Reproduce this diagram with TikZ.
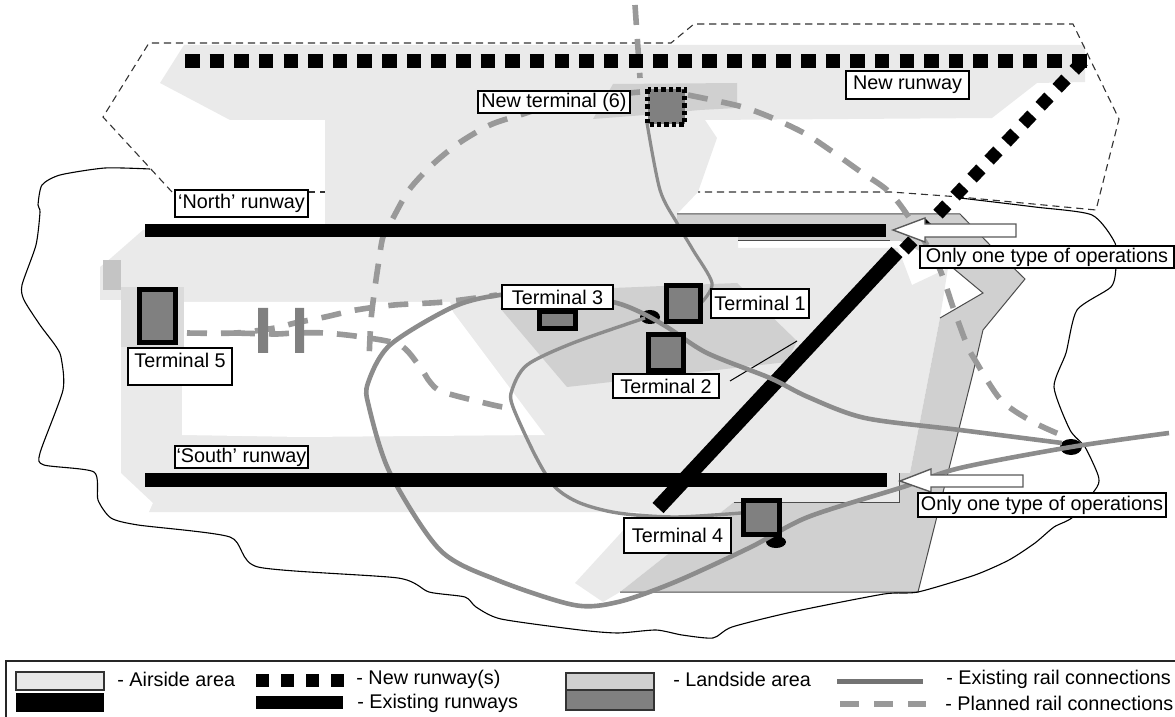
\documentclass[tikz,border=0pt]{standalone}
\usepackage{fontspec}
\setmainfont{Liberation Sans}
\usepackage{tikz}
\usetikzlibrary{calc}
\definecolor{airsidegray}{HTML}{EAEAEA}
\definecolor{landsidegray}{HTML}{D0D0D0}
\definecolor{termgray}{HTML}{808080}
\definecolor{railgray}{HTML}{8C8C8C}
\definecolor{plangray}{HTML}{999999}
\tikzset{
  labelbox/.style={draw,fill=white,line width=0.6pt,inner sep=0pt,font=\fontsize{9.9}{11}\selectfont},
  legendtext/.style={anchor=west,inner sep=0pt,font=\fontsize{9.9}{11}\selectfont},
  boundary/.style={draw=black!80,line width=0.55pt,dash pattern=on 3.6pt off 2.4pt},
  coast/.style={draw=black,line width=0.55pt},
  edge/.style={draw=black!70,line width=0.5pt},
  terminal/.style={draw=black,fill=termgray,line width=2.5pt},
  newrunway/.style={line width=7pt,dash pattern=on 7.25pt off 5.07pt},
  rail/.style={draw=railgray,line width=2.3pt},
  planned/.style={draw=plangray,line width=2.8pt,dash pattern=on 10pt off 7pt},
  opsarrow/.style={draw=black!65,fill=white,line width=0.7pt}
}
\begin{document}
\begin{tikzpicture}[x=0.5pt,y=-0.5pt]
    \useasboundingbox (0,0) rectangle (1175,717);
    \fill[airsidegray] (184,45) --(160,83) --(230,120) --(325,120) --(325,230) --(143,230) --(111,258) --(100,267) --(100,300) --(121,300) --(121,473) --(153,503) --(149,512) --(640,512) --(575,583) --(603,602) --(620,592) --(734,502) --(899,502) --(899,473) --(910,473) --(940,318) --(948,268) --(912,285) --(898,248) --(738,248) --(738,237) --(677,237) --(677,214) --(698,192) --(717,138) --(705,120) --(992,118) --(1037,83) --(1085,82) --(1085,45) --cycle; %airside
    \fill[white] (182,302) --(450,302) --(453,312) --(545,435) --(302,437) --(182,435) --cycle; %inner field
    \fill[black!14] (121,287) rectangle (184,347); %terminal 5 apron
    \fill[black!23] (103,260) rectangle (121,290);
    \fill[landsidegray] (620,592) --(918,592) --(973,373) --(983,330) --(1025,279) --(990,245) --(960,214) --(677,214) --(677,237) --(738,237) --(738,241) --(900,241) --(953,268) --(983,293) --(940,318) --(910,473) --(899,473) --(899,502) --(734,502) --cycle; %landside
    \fill[landsidegray] (500,308) --(613,288) --(737,283) --(797,341) --(787,362) --(567,387) --cycle;
    \fill[landsidegray] (593,119) --(613,84) --(737,83) --(737,108) --(700,110) --(645,115) --cycle;
    \draw[edge] (620,592) --(918,592) --(973,373) --(983,330) --(1025,279) --(990,245) --(960,214) --(677,214);
    \draw[edge] (738,241) --(890,241);
    \draw[edge] (953,268) --(983,293) --(940,318);
    \draw[edge] (734,502) --(899,502) --(899,473);
    \draw[edge,black] (730,381) --(797,341);
    \draw[coast] plot[smooth,tension=0.4] coordinates {(150,169) (105,168) (60,175) (42,185) (38,205) (40,212) (36,245) (22,285) (24,300) (40,325) (55,345) (61,357) (63,390) (40,453) (44,465) (94,472) (98,500) (111,518) (138,525) (230,537) (258,567) (398,578) (429,592) (465,597) (476,607) (501,619) (580,630) (618,633) (656,630) (682,635) (713,638) (732,627) (792,612) (884,594) (918,592) (975,575) (1009,560) (1035,543) (1054,527) (1073,517) (1097,487) (1098,475) (1085,447) (1070,430) (1054,387) (1066,353) (1077,310) (1111,287) (1116,267) (1115,243) (1092,215) (1035,207) (960,198)}; %coastline
    \draw[boundary] (172,192) --(103,117) --(149,43) --(671,43) --(694,24) --(1073,24) --(1119,119) --(1096,210) --(960,197) --(891,192) --(698,192); %new land
    \draw[boundary] (308,192) --(325,192);
    \draw[planned] (635,5) --(640,78);
    \draw[planned] plot[smooth] coordinates {(688,95) (739,106) (770,117) (804,133) (830,150) (861,172) (887,190) (906,213) (937,263) (954,310) (967,345) (975,360) (1001,400) (1033,422) (1066,437)};
    \draw[planned] plot[smooth] coordinates {(640,92) (570,100) (520,115) (490,125) (459,143) (432,165) (409,190) (392,220) (383,237) (379,260) (375,287) (371,320) (369,360)};
    \draw[planned] plot[smooth] coordinates {(187,333) (235,333) (275,328) (295,323) (325,317) (356,310) (394,305) (444,302) (497,295)};
    \draw[planned] plot[smooth] coordinates {(235,333) (275,334) (295,333) (325,333) (362,337) (400,345) (420,367) (430,382) (443,392) (493,405) (510,408)};
    \fill[termgray] (258,308) rectangle (268,353) (295,308) rectangle (304,353); %bars
    \draw[line width=7.5pt] (897,252) --(658,508); %diagonal runway
    \draw[line width=6.4pt,dash pattern=on 6.4pt off 5.98pt] (1083,61) --(904,250);
    \fill (650,317) ellipse (10 and 7); %stations
    \fill (1071,447) ellipse (11 and 8);
    \fill (776,542) ellipse (10 and 6);
    \draw[rail] plot[smooth] coordinates {(1169,433) (1071,447) (960,468) (903,487) (808,517) (751,547) (675,582) (618,602) (574,605) (497,580) (440,550) (390,473) (369,407) (368,383) (390,345) (453,307) (500,295) (560,293) (613,302) (640,312) (667,327) (707,353) (770,378) (808,397) (865,418) (960,430) (1062,443)}; %loop
    \draw[rail,line width=1.7pt] plot[smooth] coordinates {(645,318) (573,343) (527,365) (512,390) (513,407) (536,457) (555,487) (580,503) (618,513) (675,517) (741,513)};
    \draw[rail,line width=1.6pt] plot[smooth] coordinates {(647,123) (660,190) (677,223) (693,250) (712,283) (702,302)};
    \fill (145,224) rectangle (886,237); %north
    \fill (145,473) rectangle (887,487); %south
    \draw[newrunway] (185,61) --(1087,61); %new runway
    \draw[terminal] (139.5,289.5) rectangle (175.5,342.5);
    \draw[terminal] (539.5,311.5) rectangle (575.5,328.5);
    \draw[terminal] (666.5,285.5) rectangle (700.5,321.5);
    \draw[terminal] (648.5,334.5) rectangle (683.5,370.5);
    \draw[terminal] (743.5,500.5) rectangle (779.5,534.5);
    \draw[terminal,dash pattern=on 2.2pt off 1.5pt] (647.5,89.5) rectangle (684.5,124.5); %new terminal
    \draw[opsarrow] (893,230) --(925,218) --(925,224) --(1016,224) --(1016,237) --(925,237) --(925,242) --cycle;
    \draw[opsarrow] (900,481) --(931,469) --(931,475) --(1023,475) --(1023,487) --(931,487) --(931,492) --cycle;
    \node[labelbox,minimum width=76pt,minimum height=11pt] (newterm) at (554,102) {New terminal (6)};
    \node[labelbox,minimum width=61.5pt,minimum height=14pt] (newrun) at (907.5,85) {New runway};
    \node[labelbox,minimum width=66.5pt,minimum height=13.5pt] (northrun) at (241.5,203.5) {‘North’ runway};
    \node[labelbox,minimum width=66.5pt,minimum height=11pt] (southrun) at (241.5,457) {‘South’ runway};
    \node[labelbox,minimum width=55.5pt,minimum height=12pt] (termthree) at (557.5,297) {Terminal 3};
    \node[labelbox,minimum width=49pt,minimum height=14.5pt] (termone) at (760,303.5) {Terminal 1};
    \node[labelbox,minimum width=53pt,minimum height=12pt] (termtwo) at (666,386) {Terminal 2};
    \node[labelbox,minimum width=52pt,text height=9.5pt,text depth=9pt] (termfive) at (180,366.5) {Terminal 5};
    \node[labelbox,minimum width=53.5pt,minimum height=17.5pt] (termfour) at (677.5,535.5) {Terminal 4};
    \node[labelbox,minimum width=127pt,minimum height=11pt] (opsnorth) at (1047,257) {Only one type of operations};
    \node[labelbox,minimum width=124pt,minimum height=12pt] (opssouth) at (1042,505) {Only one type of operations};
    \draw[line width=0.7pt,draw=black!85] (6,717) --(6,661) --(1175,661); %legend frame
    \draw[draw=black!80,fill=black!9,line width=0.7pt] (16,672) rectangle (104,690);
    \fill (16,693) rectangle (104,712);
    \node[legendtext] (airsidetxt) at (117,679) {- Airside area};
    \foreach \xa in {256,281,306,331} \fill (\xa,674) rectangle +(13,13);
    \node[legendtext] (newruntxt) at (356,679) {- New runway(s)};
    \fill (256,696) rectangle (343,709);
    \node[legendtext] (oldruntxt) at (357,703) {- Existing runways};
    \draw[draw=black!80,fill=landsidegray,line width=0.7pt] (566,673) rectangle (654,690);
    \draw[draw=black!80,fill=termgray,line width=0.7pt] (566,690) rectangle (654,710);
    \node[legendtext] (landsidetxt) at (673,679) {- Landside area};
    \draw[line width=2.5pt,draw=black!55] (837,681) --(923,681);
    \node[legendtext] (railtxt) at (946,679) {- Existing rail connections};
    \draw[planned,dash pattern=on 9.5pt off 7.5pt] (840,704) --(926,704);
    \node[legendtext] (plantxt) at (945,703) {- Planned rail connections};
\end{tikzpicture}
\end{document}
